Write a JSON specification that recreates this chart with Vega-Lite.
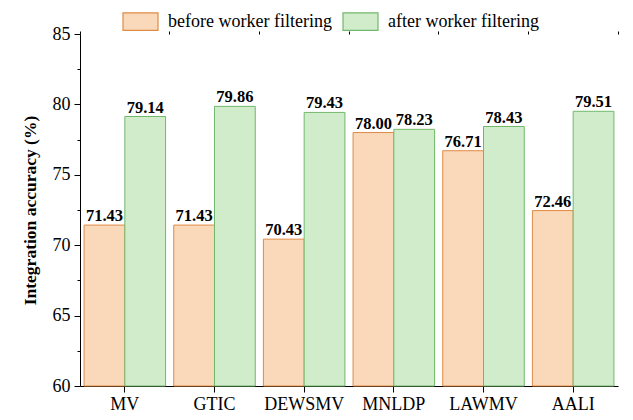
{
  "$schema": "https://vega.github.io/schema/vega-lite/v6.json",
  "width": 538,
  "height": 352,
  "autosize": "none",
  "padding": {"left": 80, "top": 34, "right": 15, "bottom": 34},
  "background": "white",
  "config": {
    "view": {"stroke": null},
    "font": "Liberation Serif",
    "axis": {"domainColor": "black", "tickColor": "black", "labelColor": "black", "titleColor": "black", "grid": false, "labelFont": "Liberation Serif", "titleFont": "Liberation Serif"}
  },
  "data": {
    "values": [
      {"method": "MV", "group": "before worker filtering", "value": 71.43},
      {"method": "MV", "group": "after worker filtering", "value": 79.14},
      {"method": "GTIC", "group": "before worker filtering", "value": 71.43},
      {"method": "GTIC", "group": "after worker filtering", "value": 79.86},
      {"method": "DEWSMV", "group": "before worker filtering", "value": 70.43},
      {"method": "DEWSMV", "group": "after worker filtering", "value": 79.43},
      {"method": "MNLDP", "group": "before worker filtering", "value": 78.00},
      {"method": "MNLDP", "group": "after worker filtering", "value": 78.23},
      {"method": "LAWMV", "group": "before worker filtering", "value": 76.71},
      {"method": "LAWMV", "group": "after worker filtering", "value": 78.43},
      {"method": "AALI", "group": "before worker filtering", "value": 72.46},
      {"method": "AALI", "group": "after worker filtering", "value": 79.51}
    ]
  },
  "layer": [
    {
      "mark": {"type": "bar", "strokeWidth": 1},
      "encoding": {
        "x": {"field": "method", "type": "nominal", "sort": ["MV", "GTIC", "DEWSMV", "MNLDP", "LAWMV", "AALI"],
              "scale": {"paddingInner": 0, "paddingOuter": 0},
              "axis": {"title": null, "labelAngle": 0, "labelFontSize": 18, "tickSize": 6, "labelPadding": 3, "bandPosition": 0.5}},
        "xOffset": {"field": "group", "type": "nominal", "sort": ["before worker filtering", "after worker filtering"],
                    "scale": {"paddingOuter": 0.1, "paddingInner": 0}},
        "y": {"field": "value", "type": "quantitative", "scale": {"domain": [60, 85], "nice": false, "zero": false},
              "axis": {"values": [60, 65, 70, 75, 80, 85], "tickSize": 6, "labelPadding": 4, "labelFontSize": 18,
                       "title": "Integration accuracy (%)", "titleFontSize": 17.5, "titleFontWeight": "bold", "titlePadding": 13}},
        "y2": {"datum": 60},
        "color": {"field": "group", "type": "nominal",
                  "scale": {"domain": ["before worker filtering", "after worker filtering"], "range": ["#fad9bb", "#d0eccb"]},
                  "legend": {"title": null, "orient": "none", "legendX": 42, "legendY": -31, "direction": "horizontal",
                             "symbolType": "M-1,-0.5H1V0.5H-1Z", "symbolSize": 1225, "symbolStrokeWidth": 1.2, "labelLimit": 400,
                             "labelFontSize": 18, "labelOffset": 9, "columnPadding": 8, "labelColor": "black", "labelFont": "Liberation Serif"}},
        "stroke": {"field": "group", "type": "nominal",
                   "scale": {"domain": ["before worker filtering", "after worker filtering"], "range": ["#e08a45", "#72b86c"]},
                   "legend": {"title": null, "orient": "none", "legendX": 42, "legendY": -31, "direction": "horizontal",
                              "symbolType": "M-1,-0.5H1V0.5H-1Z", "symbolSize": 1225, "symbolStrokeWidth": 1.2, "labelLimit": 400,
                              "labelFontSize": 18, "labelOffset": 9, "columnPadding": 8, "labelColor": "black", "labelFont": "Liberation Serif"}}
      }
    },
    {
      "mark": {"type": "text", "baseline": "bottom", "dy": -1, "fontWeight": "bold", "fontSize": 16.5, "font": "Liberation Serif", "color": "black"},
      "encoding": {
        "x": {"field": "method", "type": "nominal", "sort": ["MV", "GTIC", "DEWSMV", "MNLDP", "LAWMV", "AALI"],
              "axis": {"title": null, "labels": false, "domain": false, "tickSize": 3, "bandPosition": 0}},
        "xOffset": {"field": "group", "type": "nominal", "sort": ["before worker filtering", "after worker filtering"]},
        "y": {"field": "value", "type": "quantitative",
              "axis": {"values": [62.5, 67.5, 72.5, 77.5, 82.5], "labels": false, "domain": false, "tickSize": 3, "title": null, "orient": "left"}},
        "text": {"field": "value", "type": "quantitative", "format": ".2f"}
      }
    },
    {
      "mark": {"type": "text", "text": ""},
      "encoding": {
        "x": {"field": "method", "type": "nominal", "sort": ["MV", "GTIC", "DEWSMV", "MNLDP", "LAWMV", "AALI"],
              "axis": {"title": null, "labels": false, "domain": false, "tickSize": 3, "bandPosition": 1, "values": ["AALI"]}},
        "y": {"field": "value", "type": "quantitative", "axis": null}
      }
    }
  ],
  "resolve": {"axis": {"x": "independent", "y": "independent"}}
}
